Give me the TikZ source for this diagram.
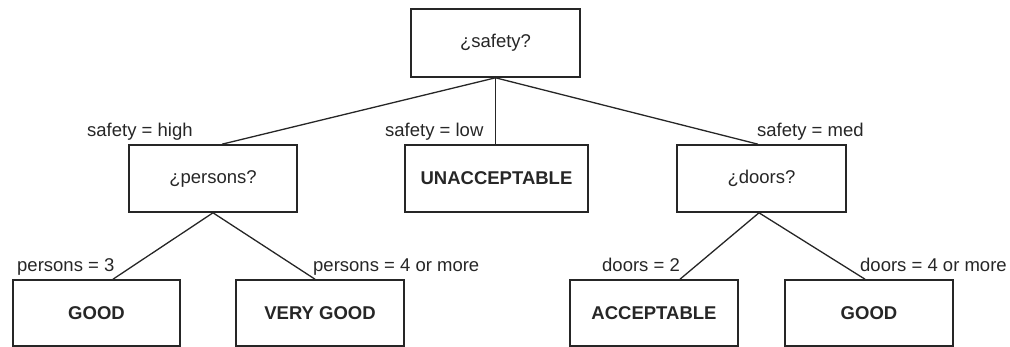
\documentclass[tikz,border=0pt]{standalone}
\usepackage{fontspec}
\setmainfont{Liberation Sans}
\begin{document}
\begin{tikzpicture}[x=1pt,y=-1pt,
  box/.style={draw=black!85,line width=1.6pt,inner sep=0pt,
    minimum width=168pt,minimum height=67pt,
    font=\fontsize{18.5}{22}\selectfont,text=black!85},
  leaf/.style={box,font=\fontsize{18.5}{22}\selectfont\bfseries},
  edge/.style={draw=black!85,line width=1.3pt},
  lbl/.style={anchor=base west,inner sep=0pt,
    font=\fontsize{18.5}{22}\selectfont,text=black!85}]
\useasboundingbox (0,0) rectangle (1010,347);

% question nodes
\node[box,minimum width=169pt,minimum height=68pt] (root) at (495.5,43) {¿safety?};
\node[box] (persons) at (213,178.5) {¿persons?};
\node[leaf,minimum width=183pt] (unacc) at (496.5,178.5) {UNACCEPTABLE};
\node[box,minimum width=169pt] (doors) at (761.5,178.5) {¿doors?};

% outcome leaves
\node[leaf,minimum width=167pt,minimum height=66pt] (good1) at (96.5,313) {GOOD};
\node[leaf,minimum height=66pt] (vgood) at (320,313) {VERY GOOD};
\node[leaf,minimum height=66pt] (accept) at (654,313) {ACCEPTABLE};
\node[leaf,minimum height=66pt] (good2) at (869,313) {GOOD};

% branches
\draw[edge] (root.south) -- ([xshift=9pt]persons.north);
\draw[edge] (root.south) -- (root.south |- unacc.north);
\draw[edge] (root.south) -- ([xshift=-3.5pt]doors.north);
\draw[edge] (persons.south) -- ([xshift=16.5pt]good1.north);
\draw[edge] (persons.south) -- ([xshift=-5pt]vgood.north);
\draw[edge] ([xshift=-2.5pt]doors.south) -- ([xshift=26pt]accept.north);
\draw[edge] ([xshift=-2.5pt]doors.south) -- ([xshift=-4pt]good2.north);

% branch labels
\node[lbl] (l1) at (87,137) {safety = high};
\node[lbl] (l2) at (385,137) {safety = low};
\node[lbl] (l3) at (757,137) {safety = med};
\node[lbl] (l4) at (17,272) {persons = 3};
\node[lbl] (l5) at (313,272) {persons = 4 or more};
\node[lbl] (l6) at (602,272) {doors = 2};
\node[lbl] (l7) at (860,272) {doors = 4 or more};
\end{tikzpicture}
\end{document}
